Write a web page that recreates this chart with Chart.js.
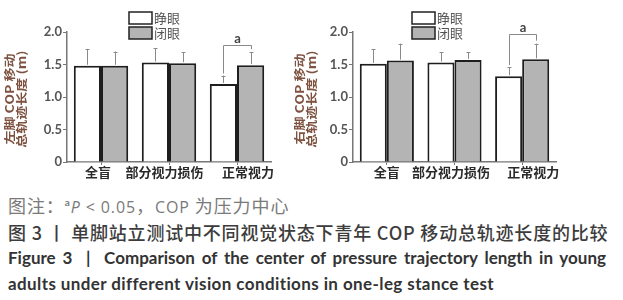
<!DOCTYPE html>
<html><head><meta charset="utf-8">
<script src="https://cdn.jsdelivr.net/npm/chart.js@4.4.1/dist/chart.umd.min.js"></script>
<style>
html,body{margin:0;padding:0;background:#fff}
body{width:623px;height:300px;overflow:hidden;position:relative;font-family:"Noto Sans CJK SC",sans-serif}
canvas{position:absolute;top:0}
#c1{left:0}
#c2{left:285px}
.cap{position:absolute;left:8px;white-space:nowrap;line-height:1}
#l1{top:196px;font-size:18px;color:#7a7a7a;letter-spacing:0.9px}
#l1 sup{font-size:10px;vertical-align:7px;font-family:Lato,sans-serif;font-weight:bold}
#l1 .lat{font-family:"Open Sans",sans-serif;font-size:16px}
#l2{top:223px;font-size:18px;color:#3c3c3c;font-weight:500;letter-spacing:0.8px}
#l3{top:249px;font-size:17px;color:#333;font-weight:bold;font-family:Lato,sans-serif;width:598px;text-align:justify;text-align-last:justify;white-space:normal}
#l4{top:275px;font-size:17px;color:#333;font-weight:bold;font-family:Lato,sans-serif;letter-spacing:0.4px}
</style></head><body>
<canvas id="c1" width="300" height="190"></canvas>
<canvas id="c2" width="338" height="190"></canvas>
<div class="cap" id="l1">图注：<sup>a</sup><span class="lat"><i>P</i> &lt; 0.05</span>，<span class="lat">COP</span> 为压力中心</div>
<div class="cap" id="l2">图 3 丨 单脚站立测试中不同视觉状态下青年 COP 移动总轨迹长度的比较</div>
<div class="cap" id="l3">Figure 3&nbsp; |&nbsp; Comparison of the center of pressure trajectory length in young</div>
<div class="cap" id="l4">adults under different vision conditions in one-leg stance test</div>
<script>
// ---- data ----
const categories = ['全盲', '部分视力损伤', '正常视力'];
const seriesNames = ['睁眼', '闭眼'];
const yTicks = [0, 0.5, 1.0, 1.5, 2.0];
const yTickLabels = ['0', '0.5', '1.0', '1.5', '2.0'];

const leftOpen = [1.48, 1.53, 1.20];
const leftOpenErr = [0.26, 0.22, 0.13];
const leftClosed = [1.48, 1.52, 1.49];
const leftClosedErr = [0.22, 0.17, 0.20];
const leftTitle = ['左脚 COP 移动', '总轨迹长度 (m)'];
const leftSigCategory = 2;
const leftSigLevel = 1.80;

const rightOpen = [1.51, 1.53, 1.32];
const rightOpenErr = [0.23, 0.16, 0.14];
const rightClosed = [1.56, 1.57, 1.58];
const rightClosedErr = [0.26, 0.12, 0.24];
const rightTitle = ['右脚 COP 移动', '总轨迹长度 (m)'];
const rightSigCategory = 2;
const rightSigLevel = 1.97;
const sigLabel = 'a';

// ---- styles ----
const fills = ['#ffffff', '#b4b4b4'];
const CJK = '"Noto Sans CJK SC", sans-serif';

function extrasPlugin(o) {
  return {
    id: 'extras',
    afterDatasetsDraw(chart) {
      const ctx = chart.ctx, y = chart.scales.y, x = chart.scales.x;
      ctx.save();
      // error bars
      ctx.strokeStyle = '#8a8a8a'; ctx.lineWidth = 1;
      const tops = [];
      chart.data.datasets.forEach((ds, di) => {
        const meta = chart.getDatasetMeta(di);
        tops[di] = [];
        meta.data.forEach((bar, i) => {
          const t = y.getPixelForValue(ds.data[i] + ds.errs[i]);
          const bx = Math.round(bar.x) + 0.5;
          tops[di][i] = {x: bx, y: t};
          ctx.beginPath();
          ctx.moveTo(bx, bar.y - 1);
          ctx.lineTo(bx, t);
          ctx.moveTo(bx - 2, Math.round(t) + 0.5);
          ctx.lineTo(bx + 2, Math.round(t) + 0.5);
          ctx.stroke();
        });
      });
      // significance bracket
      const a = tops[0][o.sigCat], b = tops[1][o.sigCat];
      const ty = Math.round(y.getPixelForValue(o.sigLevel)) + 0.5;
      ctx.strokeStyle = '#8a8a8a';
      ctx.beginPath();
      ctx.moveTo(a.x, a.y - 2); ctx.lineTo(a.x, ty); ctx.lineTo(b.x, ty); ctx.lineTo(b.x, b.y - 3);
      ctx.stroke();
      ctx.fillStyle = '#444'; ctx.font = 'bold 13px Lato, sans-serif';
      ctx.textAlign = 'center'; ctx.textBaseline = 'alphabetic';
      ctx.fillText(sigLabel, (a.x + b.x) / 2, ty - 3);
      // category labels (at the x scale's category positions)
      ctx.fillStyle = '#2a2a2a'; ctx.font = 'bold 13px ' + CJK;
      ctx.textAlign = 'center'; ctx.textBaseline = 'middle';
      chart.data.labels.forEach((lab, i) => {
        ctx.fillText(lab, x.getPixelForValue(i) + o.labelShift[i], x.top + 10);
      });
      // legend
      chart.data.datasets.forEach((ds, di) => {
        const bx = o.legendX, by = 12 + di * 15;
        ctx.fillStyle = ds.backgroundColor; ctx.fillRect(bx, by, 23, 12);
        ctx.strokeStyle = '#222'; ctx.lineWidth = 1.5; ctx.strokeRect(bx, by, 23, 12);
        ctx.fillStyle = '#555'; ctx.font = '13px ' + CJK;
        ctx.textAlign = 'left'; ctx.textBaseline = 'middle';
        ctx.fillText(ds.label, bx + 25, by + 6);
      });
      // y title
      ctx.fillStyle = '#7e5240'; ctx.font = 'bold 14px ' + CJK;
      ctx.textAlign = 'center'; ctx.textBaseline = 'middle';
      const cy = (chart.chartArea.top + chart.chartArea.bottom) / 2 + 2;
      o.title.forEach((t, k) => {
        ctx.save(); ctx.translate(o.titleX[k], cy); ctx.rotate(-Math.PI / 2); ctx.scale(1, 0.82);
        ctx.fillText(t, 0, 0); ctx.restore();
      });
      ctx.restore();
    }
  };
}

function makeChart(id, open, openErr, closed, closedErr, o) {
  return new Chart(document.getElementById(id), {
    type: 'bar',
    data: {
      labels: categories,
      datasets: [
        {label: seriesNames[0], data: open, errs: openErr, backgroundColor: fills[0], borderColor: '#1e1e1e', borderWidth: 2},
        {label: seriesNames[1], data: closed, errs: closedErr, backgroundColor: fills[1], borderColor: '#1e1e1e', borderWidth: 2}
      ]
    },
    options: {
      responsive: false, animation: false, devicePixelRatio: 1,
      layout: {padding: {left: 0, right: o.padRight, top: 32, bottom: 0}},
      plugins: {legend: {display: false}, tooltip: {enabled: false}},
      datasets: {bar: {barPercentage: 1, categoryPercentage: 0.8}},
      scales: {
        x: {
          grid: {display: true, drawOnChartArea: false, drawTicks: true, tickLength: 3, offset: false, color: '#777'},
          border: {display: true, color: '#777', width: 1.5},
          ticks: {display: false},
          afterFit(s) { s.height = 28; }
        },
        y: {
          min: 0, max: 2,
          afterBuildTicks(s) { s.ticks = yTicks.map(v => ({value: v})); },
          grid: {drawOnChartArea: false, drawTicks: true, tickLength: 4, color: '#777'},
          border: {display: true, color: '#777', width: 1.5},
          ticks: {color: '#555', font: {family: 'Lato, sans-serif', size: 13, weight: 'bold'}, padding: 1,
                  callback(v, i) { return yTickLabels[i]; }},
          afterFit(s) { s.width = o.axisX; }
        }
      }
    },
    plugins: [extrasPlugin(o)]
  });
}

makeChart('c1', leftOpen, leftOpenErr, leftClosed, leftClosedErr,
  {axisX: 67, padRight: 29, legendX: 129, title: leftTitle, titleX: [10, 22], labelShift: [-3, -4.5, 11],
   sigCat: leftSigCategory, sigLevel: leftSigLevel});
makeChart('c2', rightOpen, rightOpenErr, rightClosed, rightClosedErr,
  {axisX: 68, padRight: 67, legendX: 127, title: rightTitle, titleX: [15, 27], labelShift: [0, -3.5, 11],
   sigCat: rightSigCategory, sigLevel: rightSigLevel});
</script>
</body></html>
